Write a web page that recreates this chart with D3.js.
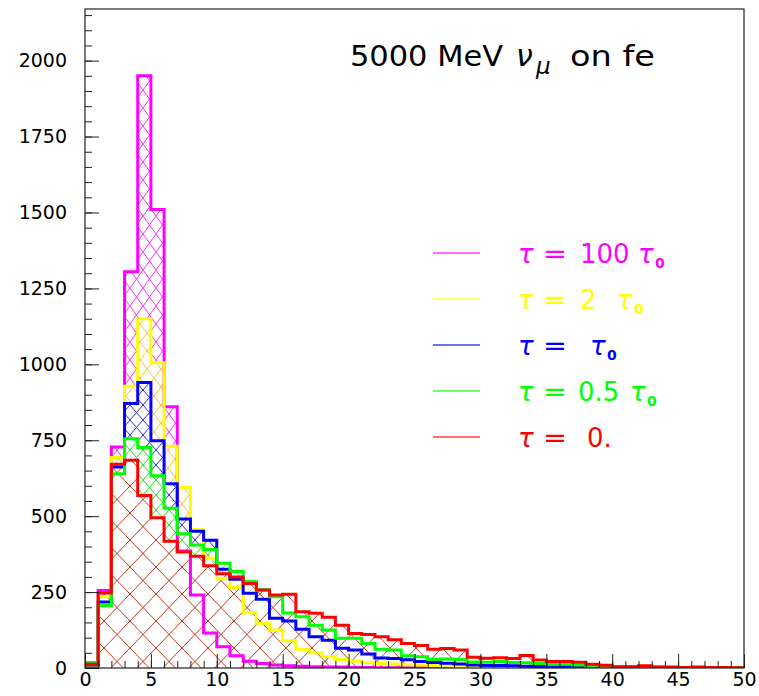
<!DOCTYPE html>
<html><head><meta charset="utf-8">
<script src="https://cdn.jsdelivr.net/npm/d3@7"></script>
<style>
body{margin:0;background:#fff}
svg{display:block}
text{font-family:"DejaVu Sans",sans-serif}
</style>
</head><body>
<svg id="c" width="759" height="696"></svg>
<script>
// ---------------- data ----------------
const binEdges = d3.range(0, 51);            // 50 bins of width 1, 0..50
const tau100 = [5, 255, 728, 1305, 1950, 1510, 860, 385, 240, 115,
                70, 40, 22, 15, 10, 7, 6, 4, 3, 3,
                2, 2, 1, 1, 1, 1, 1, 1, 0, 0,
                0, 0, 0, 0, 0, 0, 0, 0, 0, 0,
                0, 0, 0, 0, 0, 0, 0, 0, 0, 0];
const tau2   = [8, 235, 693, 928, 1150, 1005, 730, 594, 455, 362,
                294, 265, 182, 147, 125, 90, 62, 50, 37, 28,
                22, 17, 15, 13, 11, 10, 8, 7, 6, 5,
                5, 4, 4, 3, 3, 2, 2, 2, 2, 1,
                1, 1, 1, 1, 1, 0, 0, 0, 0, 0];
const tau1   = [10, 217, 662, 871, 940, 748, 607, 491, 450, 421,
                325, 292, 246, 226, 164, 155, 128, 103, 91, 65,
                59, 46, 33, 31, 27, 21, 18, 16, 13, 10,
                8, 8, 7, 6, 5, 4, 4, 3, 3, 2,
                2, 2, 1, 1, 1, 1, 1, 0, 0, 0];
const tau05  = [18, 206, 640, 755, 726, 633, 526, 442, 405, 390,
                345, 318, 285, 258, 235, 181, 169, 141, 125, 98,
                98, 81, 62, 59, 40, 37, 28, 30, 28, 20,
                19, 21, 18, 17, 15, 12, 12, 10, 7, 5,
                4, 4, 5, 3, 2, 2, 2, 1, 1, 1];
const tau0   = [12, 247, 671, 684, 568, 495, 417, 382, 368, 337,
                310, 300, 278, 257, 240, 243, 185, 180, 167, 141,
                114, 110, 103, 93, 81, 74, 62, 64, 59, 35,
                32, 34, 31, 41, 26, 21, 21, 19, 12, 9,
                4, 4, 7, 3, 3, 2, 3, 2, 2, 1];

const yTicksMajor = [0, 250, 500, 750, 1000, 1250, 1500, 1750, 2000];
const yTicksMinor = d3.range(0, 2170, 50);
const xTicksMajor = [0, 5, 10, 15, 20, 25, 30, 35, 40, 45, 50];
const xTicksMinor = d3.range(0, 51, 1);

const seriesValues = [tau100, tau2, tau1, tau05, tau0];
const legendValue  = ["100", "2", "", "0.5", "0."];
const legendTau0   = [true, true, true, true, false];
const titleMain = "5000 MeV";
const titleNu = "ν", titleMu = "μ", titleTail = "on fe";

// ---------------- styles ----------------
const colors = ["#ff00ff", "#ffff00", "#0000ff", "#00ff00", "#ff0000"];
const hatchColors = ["#ff30ff", "#ffc030", "#3030d0", "#20e020", "#c8361c"];
const hatchSize = [[13, 18], [14, 18], [13, 15], [13, 15], [26, 27]];
// legend text layout (pixel positions of the pieces)
const legValueX = [580, 580, 0, 578, 587];
const legTauX   = [638, 617, 590, 630, 0];

// ---------------- layout ----------------
const svg = d3.select("#c");
const X0 = 85, X1 = 744, Y0 = 668, Y1 = 9;
const x = d3.scaleLinear().domain([0, 50]).range([X0, X1]);
const y = d3.scaleLinear().domain([0, 2170]).range([Y0, Y1]);

const defs = svg.append("defs");
hatchColors.forEach((c, i) => {
  const [w, h] = hatchSize[i];
  const p = defs.append("pattern").attr("id", "hatch" + i)
    .attr("patternUnits", "userSpaceOnUse")
    .attr("width", w).attr("height", h);
  p.append("rect").attr("width", w).attr("height", h).attr("fill", "#fff");
  p.append("path")
    .attr("d", `M0,0L${w},${h}M${w},0L0,${h}`)
    .attr("stroke", c).attr("stroke-width", 1).attr("fill", "none");
});
defs.append("clipPath").attr("id", "plotclip")
  .append("rect").attr("x", X0).attr("y", Y1).attr("width", X1 - X0).attr("height", Y0 - Y1);

const plot = svg.append("g").attr("clip-path", "url(#plotclip)");

const area = d3.area().curve(d3.curveStepAfter)
  .x(d => x(d[0])).y0(y(0)).y1(d => y(d[1]));
const line = d3.line().curve(d3.curveStepAfter)
  .x(d => x(d[0])).y(d => y(d[1]));

const pointsOf = vals => {
  const pts = vals.map((v, k) => [binEdges[k], v]);
  pts.push([binEdges[50], vals[49]]);
  return pts;
};
// fills first (each hides what lies under it), then all outlines
seriesValues.forEach((vals, i) => {
  plot.append("path").attr("d", area(pointsOf(vals)))
    .attr("fill", `url(#hatch${i})`).attr("stroke", "none");
});
seriesValues.forEach((vals, i) => {
  const outline = [[0, 0], ...pointsOf(vals), [50, 0]];
  plot.append("path").attr("d", line(outline))
    .attr("fill", "none").attr("stroke", colors[i])
    .attr("stroke-width", 3).attr("stroke-linejoin", "miter");
});

// ---------------- axes ----------------
const axisColor = "#222";
function styleAxis(g) {
  g.select(".domain").remove();
  g.selectAll(".tick line").attr("stroke", axisColor).attr("stroke-width", 1);
  g.selectAll("text").attr("font-family", "DejaVu Sans").attr("font-size", 19).attr("fill", "#000");
}
svg.append("g").attr("transform", `translate(${X0},0)`)
  .call(d3.axisLeft(y).tickValues(yTicksMinor).tickSize(-7).tickFormat(""))
  .call(styleAxis);
svg.append("g").attr("transform", `translate(${X0},0)`)
  .call(d3.axisLeft(y).tickValues(yTicksMajor).tickSize(-14).tickPadding(18).tickFormat(d3.format("d")))
  .call(styleAxis);
svg.append("g").attr("transform", `translate(0,${Y0})`)
  .call(d3.axisBottom(x).tickValues(xTicksMinor).tickSize(-7).tickFormat(""))
  .call(styleAxis);
svg.append("g").attr("transform", `translate(0,${Y0})`)
  .call(d3.axisBottom(x).tickValues(xTicksMajor).tickSize(-14).tickPadding(4).tickFormat(d3.format("d")))
  .call(styleAxis);

svg.append("rect").attr("x", X0).attr("y", Y1)
  .attr("width", X1 - X0).attr("height", Y0 - Y1)
  .attr("fill", "none").attr("stroke", "#222").attr("stroke-width", 1.2);

// ---------------- title ----------------
svg.append("text").attr("x", 350).attr("y", 66).attr("font-size", 29)
  .attr("textLength", 153).attr("lengthAdjust", "spacingAndGlyphs").text(titleMain);
svg.append("text").attr("x", 516).attr("y", 66).attr("font-size", 30)
  .attr("font-style", "italic").text(titleNu);
svg.append("text").attr("x", 536).attr("y", 74).attr("font-size", 23)
  .attr("font-style", "italic").text(titleMu);
svg.append("text").attr("x", 570).attr("y", 66).attr("font-size", 29)
  .attr("textLength", 85).attr("lengthAdjust", "spacingAndGlyphs").text(titleTail);

// ---------------- legend ----------------
const legTop = 253, legStep = 46;
colors.forEach((c, i) => {
  const ly = legTop + i * legStep;
  svg.append("line").attr("x1", 433).attr("x2", 480).attr("y1", ly).attr("y2", ly)
    .attr("stroke", c).attr("stroke-width", 1.5).attr("opacity", 0.75);
  const g = svg.append("g").attr("fill", c).attr("font-size", 26);
  g.append("text").attr("x", 518).attr("y", ly + 10).attr("font-style", "italic").text("τ");
  g.append("text").attr("x", 543).attr("y", ly + 10).attr("textLength", 24)
    .attr("lengthAdjust", "spacingAndGlyphs").text("=");
  if (legendValue[i]) g.append("text").attr("x", legValueX[i]).attr("y", ly + 10).text(legendValue[i]);
  if (legendTau0[i]) {
    g.append("text").attr("x", legTauX[i]).attr("y", ly + 10).attr("font-style", "italic").text("τ");
    g.append("text").attr("x", legTauX[i] + 17).attr("y", ly + 15)
      .attr("font-size", 14).attr("font-weight", "bold").text("0");
  }
});
</script>
</body></html>
